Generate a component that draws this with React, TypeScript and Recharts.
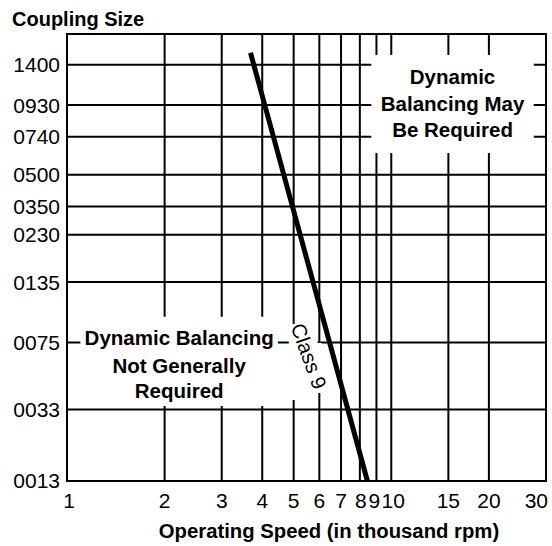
import React from 'react';
import { LineChart, Line, XAxis, YAxis, CartesianGrid, ReferenceArea } from 'recharts';

// X axis: operating speed (thousand rpm), log scale
const speedTicks = [1, 2, 3, 4, 5, 6, 7, 8, 9, 10, 15, 20, 30];

// Y axis: coupling sizes and their positions on the chart's (non-uniform) size scale, 0..100
const sizeLabels = ['0013', '0033', '0075', '0135', '0230', '0350', '0500', '0740', '0930', '1400'];
const sizePos = [0, 16.0, 31.0, 44.5, 55.1, 61.4, 68.5, 77.0, 84.1, 93.1];

// Class 9 boundary line
const classSpeed = [3.68, 8.44];
const classPos = [95.8, 0];

// Region texts
const leftLines = ['Dynamic Balancing', 'Not Generally', 'Required'];
const rightLines = ['Dynamic', 'Balancing May', 'Be Required'];
const classLabel = 'Class 9';

const lineData = classSpeed.map((s, i) => ({ speed: s, pos: classPos[i] }));

const FONT = "'Liberation Sans', Arial, Helvetica, sans-serif";

const TICK_DX: Record<number, number> = { 1: 2, 8: 1, 9: -2, 10: 2 };

const RegionText = ({ viewBox, lines }: any) => {
  if (!viewBox) return null;
  const cx = viewBox.x + viewBox.width / 2;
  const top = viewBox.y;
  const offs = [28.7, 55.9, 81.7];
  return (
    <text textAnchor="middle" fontFamily={FONT} fontSize={20.5} fontWeight="bold" fill="#000">
      {lines.map((l: string, i: number) => (
        <tspan key={i} x={cx} y={top + offs[i]}>{l}</tspan>
      ))}
    </text>
  );
};

const ClassText = ({ viewBox }: any) => {
  if (!viewBox) return null;
  const cx = viewBox.x + viewBox.width / 2 + 6;
  const cy = viewBox.y + viewBox.height / 2 - 6;
  return (
    <text
      x={cx}
      y={cy}
      textAnchor="middle"
      dominantBaseline="central"
      transform={`rotate(70, ${cx}, ${cy})`}
      fontFamily={FONT}
      fontSize={20.5}
      fill="#000"
    >
      {classLabel}
    </text>
  );
};

const XTick = ({ x, y, payload }: any) => {
  const v = payload.value;
  const last = v === speedTicks[speedTicks.length - 1];
  const dx = last ? 2 : TICK_DX[v] || 0;
  return (
    <text
      x={x + dx}
      y={y}
      dy="0.71em"
      textAnchor={last ? 'end' : 'middle'}
      fontFamily={FONT}
      fontSize={21}
      fill="#000"
    >
      {v}
    </text>
  );
};

export default function App() {
  return (
    <div style={{ position: 'absolute', left: 0, top: 0, background: '#fff' }}>
      <LineChart
        width={552}
        height={546}
        data={lineData}
        margin={{ top: 34, right: 6, bottom: 0, left: 0 }}
      >
        <CartesianGrid stroke="#000" strokeWidth={2} />
        <XAxis
          dataKey="speed"
          type="number"
          scale="log"
          domain={[1, 30]}
          ticks={speedTicks}
          interval={0}
          allowDataOverflow
          axisLine={false}
          tickLine={false}
          tickSize={0}
          tickMargin={12}
          height={65}
          tick={<XTick />}
          label={{
            content: ({ viewBox }: any) => (
              <text
                x={viewBox.x + viewBox.width / 2 + 22.5}
                y={viewBox.y + 57}
                textAnchor="middle"
                fontFamily={FONT}
                fontSize={20.3}
                fontWeight="bold"
                fill="#000"
              >
                Operating Speed (in thousand rpm)
              </text>
            ),
          }}
        />
        <YAxis
          type="number"
          domain={[0, 100]}
          ticks={sizePos}
          interval={0}
          width={67}
          axisLine={false}
          tickLine={false}
          tickSize={0}
          tickMargin={7}
          tickFormatter={(v: number) => sizeLabels[sizePos.indexOf(v)]}
          tick={{ fill: '#000', fontSize: 21, fontFamily: FONT }}
          label={{
            content: ({ viewBox }: any) => (
              <text
                x={12}
                y={viewBox.y - 8}
                fontFamily={FONT}
                fontSize={20}
                fontWeight="bold"
                fill="#000"
              >
                Coupling Size
              </text>
            ),
          }}
        />
        <ReferenceArea
          x1={1.1}
          x2={4.47}
          y1={16.78}
          y2={36.76}
          fill="#fff"
          fillOpacity={1}
          stroke="none"
          label={{ content: (p: any) => <RegionText viewBox={p.viewBox} lines={leftLines} /> }}
        />
        <ReferenceArea
          x1={8.68}
          x2={27.5}
          y1={73.4}
          y2={95.3}
          fill="#fff"
          fillOpacity={1}
          stroke="none"
          label={{ content: (p: any) => <RegionText viewBox={p.viewBox} lines={rightLines} /> }}
        />
        <ReferenceArea
          x1={5.9}
          x2={6.1}
          y1={19.7}
          y2={30.9}
          fill="#fff"
          fillOpacity={1}
          stroke="none"
        />
        <ReferenceArea
          x1={4.83}
          x2={5.92}
          y1={18.1}
          y2={35.1}
          fill="#fff"
          fillOpacity={1}
          stroke="none"
          label={{ content: (p: any) => <ClassText viewBox={p.viewBox} /> }}
        />
        <Line
          dataKey="pos"
          type="linear"
          stroke="#000"
          strokeWidth={5}
          dot={false}
          activeDot={false}
          isAnimationActive={false}
        />
        <ReferenceArea
          x1={1}
          x2={30}
          y1={0}
          y2={100}
          fill="none"
          stroke="#000"
          strokeWidth={2}
        />
      </LineChart>
    </div>
  );
}
